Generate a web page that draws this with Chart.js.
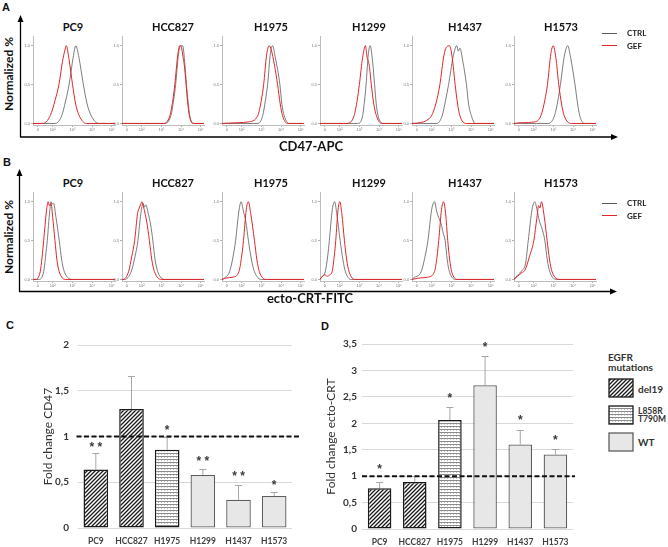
<!DOCTYPE html>
<html>
<head>
<meta charset="utf-8">
<script src="https://cdn.jsdelivr.net/npm/chart.js@4.4.1/dist/chart.umd.min.js"></script>
<style>
  body { margin: 0; background: #fff; }
  #fig { position: relative; width: 668px; height: 547px; overflow: hidden; font-family: Lato, "Open Sans", sans-serif; color: #111; }
  #fig canvas { position: absolute; }
  .txt { position: absolute; white-space: nowrap; transform: translate(-50%, -50%); line-height: 1; }
  .left { transform: translate(0, -50%); }
  svg { position: absolute; left: 0; top: 0; }
</style>
</head>
<body>
<div id="fig">
  <svg width="668" height="547">
    <g stroke="#000" stroke-width="1.3" fill="#000">
      <line x1="20.5" y1="20" x2="20.5" y2="137" />
      <line x1="20" y1="137" x2="612" y2="137" />
      <polygon points="20.5,15 17.5,22 23.5,22" stroke="none" />
      <polygon points="618,137 611,134 611,140" stroke="none" />
      <line x1="19.5" y1="174" x2="19.5" y2="291.5" />
      <line x1="19" y1="291.5" x2="611" y2="291.5" />
      <polygon points="19.5,169 16.5,176 22.5,176" stroke="none" />
      <polygon points="617,291.5 610,288.5 610,294.5" stroke="none" />
    </g>
  </svg>
</div>
<script>
// cell lines and EGFR status
const cellLines = ['PC9', 'HCC827', 'H1975', 'H1299', 'H1437', 'H1573'];
const mutation = ['del19', 'del19', 'L858R', 'WT', 'WT', 'WT'];

// panel C : fold change CD47
const cd47Fold = [0.64, 1.30, 0.855, 0.58, 0.31, 0.35];
const cd47Err = [0.18, 0.36, 0.14, 0.07, 0.16, 0.04];
const cd47Sig = ['* *', '', '*', '* *', '* *', '*'];
const cd47SigAt = [0.91, null, 1.10, 0.76, 0.59, 0.50];
const cd47Ticks = [0, 0.5, 1, 1.5, 2];

// panel D : fold change ecto-CRT
const crtFold = [0.77, 0.89, 2.06, 2.72, 1.60, 1.41];
const crtErr = [0.11, 0.11, 0.24, 0.56, 0.27, 0.11];
const crtSig = ['*', '', '*', '*', '*', '*'];
const crtSigAt = [1.18, null, 2.52, 3.49, 2.11, 1.72];
const crtTicks = [0, 0.5, 1, 1.5, 2, 2.5, 3, 3.5];

// histogram axes
const histTicks = [0.3, 1.2, 2.4, 3.6, 4.8];
const histTickLabels = ['0', '10²', '10³', '10⁴', '10⁵'];
const histYTicks = [0, 0.5, 1];

// panel A : CD47-APC histograms  [x (decade), normalized]
const aPC9Ctrl = [[0,0],[1.35,0],[1.75,0.1],[2.0,0.3],[2.2,0.5],[2.45,0.85],[2.61,1],[2.8,0.85],[3.07,0.5],[3.3,0.25],[3.55,0.1],[4.0,0],[5,0]];
const aPC9Gef = [[0,0],[0.6,0],[1.05,0.1],[1.35,0.3],[1.58,0.5],[1.8,0.8],[1.93,0.93],[2.03,1],[2.2,0.82],[2.41,0.5],[2.6,0.25],[2.82,0.1],[3.25,0],[5,0]];
const aHCC827Ctrl = [[0,0],[2.6,0],[2.98,0.1],[3.15,0.3],[3.27,0.5],[3.45,0.9],[3.56,1],[3.7,1],[3.82,0.8],[3.93,0.5],[4.03,0.28],[4.13,0.1],[4.35,0],[5,0]];
const aHCC827Gef = [[0,0],[2.5,0],[2.92,0.1],[3.1,0.3],[3.22,0.5],[3.4,0.88],[3.52,1],[3.62,0.98],[3.72,0.86],[3.8,0.75],[3.91,0.5],[4.0,0.28],[4.11,0.1],[4.35,0],[5,0]];
const aH1975Ctrl = [[0,0],[2.2,0],[2.48,0.1],[2.65,0.3],[2.78,0.5],[2.95,0.9],[3.08,1],[3.25,0.85],[3.53,0.5],[3.65,0.25],[3.79,0.1],[4.1,0],[5,0]];
const aH1975Gef = [[0,0],[1.0,0.01],[1.6,0.02],[2.18,0.1],[2.4,0.3],[2.54,0.5],[2.72,0.88],[2.88,1],[3.0,0.95],[3.2,0.75],[3.39,0.5],[3.55,0.25],[3.69,0.1],[4.0,0],[5,0]];
const aH1299Ctrl = [[0,0],[2.3,0],[2.6,0.1],[2.72,0.3],[2.81,0.5],[2.95,0.9],[3.06,1],[3.18,0.85],[3.33,0.5],[3.43,0.25],[3.54,0.1],[3.85,0],[5,0]];
const aH1299Gef = [[0,0],[1.65,0],[2.08,0.1],[2.27,0.3],[2.4,0.5],[2.6,0.85],[2.77,1],[2.87,0.85],[2.95,0.8],[3.02,0.72],[3.13,0.5],[3.28,0.25],[3.44,0.1],[3.75,0],[5,0]];
const aH1437Ctrl = [[0,0],[1.5,0],[1.84,0.1],[2.05,0.3],[2.23,0.5],[2.5,0.85],[2.73,1],[2.82,0.93],[2.92,0.97],[3.1,0.8],[3.32,0.5],[3.45,0.25],[3.62,0.1],[3.85,0],[5,0]];
const aH1437Gef = [[0,0],[0.5,0.01],[0.9,0.04],[1.19,0.1],[1.45,0.25],[1.7,0.5],[1.95,0.88],[2.1,0.98],[2.29,1],[2.45,0.85],[2.63,0.5],[2.78,0.25],[2.92,0.1],[3.3,0],[5,0]];
const aH1573Ctrl = [[0,0],[2.1,0],[2.47,0.1],[2.68,0.3],[2.83,0.5],[3.08,0.88],[3.28,1],[3.45,0.85],[3.72,0.5],[3.88,0.25],[4.01,0.1],[4.3,0],[5,0]];
const aH1573Gef = [[0,0],[0.5,0.01],[1.25,0.02],[1.64,0.1],[1.88,0.3],[2.04,0.5],[2.25,0.9],[2.39,1],[2.55,0.85],[2.73,0.5],[2.9,0.25],[3.06,0.1],[3.5,0],[5,0]];

// panel B : ecto-CRT-FITC histograms
const bPC9Ctrl = [[0,0],[0.34,0],[0.65,0.1],[0.77,0.3],[0.87,0.5],[1.02,0.88],[1.1,1],[1.18,0.97],[1.25,0.98],[1.4,0.8],[1.6,0.5],[1.75,0.25],[1.91,0.1],[2.45,0],[5,0]];
const bPC9Gef = [[0,0],[0.13,0],[0.44,0.1],[0.55,0.28],[0.65,0.5],[0.82,0.88],[0.92,1],[1.0,0.95],[1.1,0.98],[1.2,0.8],[1.34,0.5],[1.46,0.25],[1.6,0.1],[2.0,0],[5,0]];
const bHCC827Ctrl = [[0,0],[0.16,0],[0.56,0.1],[0.8,0.3],[0.97,0.5],[1.15,0.85],[1.28,0.98],[1.36,0.93],[1.45,0.96],[1.6,0.85],[1.75,0.7],[1.88,0.5],[2.02,0.25],[2.18,0.1],[2.6,0],[5,0]];
const bHCC827Gef = [[0,0],[0.06,0],[0.4,0.1],[0.6,0.3],[0.77,0.5],[0.95,0.85],[1.05,0.92],[1.15,0.97],[1.21,1],[1.35,0.9],[1.5,0.75],[1.67,0.5],[1.82,0.25],[1.98,0.1],[2.4,0],[5,0]];
const bH1975Ctrl = [[0,0],[0.16,0.02],[0.46,0.1],[0.68,0.3],[0.83,0.5],[1.03,0.88],[1.17,1],[1.3,0.88],[1.45,0.75],[1.61,0.5],[1.8,0.25],[1.98,0.1],[2.4,0],[5,0]];
const bH1975Gef = [[0,0],[0.3,0.02],[0.67,0.03],[1.03,0.1],[1.2,0.3],[1.31,0.5],[1.48,0.9],[1.61,1],[1.75,0.85],[1.98,0.5],[2.13,0.25],[2.28,0.1],[2.7,0],[5,0]];
const bH1299Ctrl = [[0,0],[0.1,0.03],[0.32,0.1],[0.47,0.3],[0.57,0.5],[0.75,0.9],[0.89,1],[1.02,0.85],[1.23,0.5],[1.4,0.25],[1.55,0.1],[1.9,0],[5,0]];
const bH1299Gef = [[0,0],[0.15,0.04],[0.3,0.06],[0.43,0.04],[0.6,0.06],[0.74,0.1],[0.87,0.3],[0.96,0.5],[1.1,0.9],[1.21,1],[1.33,0.85],[1.49,0.5],[1.63,0.25],[1.77,0.1],[2.15,0],[5,0]];
const bH1437Ctrl = [[0,0],[0.1,0.02],[0.56,0.1],[0.8,0.3],[0.97,0.5],[1.2,0.9],[1.37,1],[1.5,0.88],[1.62,0.8],[1.77,0.72],[1.9,0.6],[2.02,0.5],[2.15,0.25],[2.28,0.1],[2.7,0],[5,0]];
const bH1437Gef = [[0,0],[0.5,0.02],[0.97,0.03],[1.37,0.1],[1.53,0.3],[1.63,0.5],[1.8,0.9],[1.92,1],[2.05,0.85],[2.18,0.5],[2.3,0.25],[2.42,0.1],[2.8,0],[5,0]];
const bH1573Ctrl = [[0,0],[0.2,0.05],[0.5,0.12],[0.7,0.2],[0.87,0.5],[1.1,0.9],[1.27,1],[1.4,0.9],[1.55,0.75],[1.67,0.68],[1.88,0.5],[2.03,0.25],[2.18,0.1],[2.6,0],[5,0]];
const bH1573Gef = [[0,0],[0.2,0.04],[0.5,0.09],[0.67,0.12],[0.95,0.3],[1.21,0.5],[1.4,0.8],[1.5,0.95],[1.58,0.92],[1.67,1],[1.85,0.8],[2.02,0.5],[2.17,0.25],[2.32,0.1],[2.8,0],[5,0]];

const rowA = [[aPC9Ctrl, aPC9Gef], [aHCC827Ctrl, aHCC827Gef], [aH1975Ctrl, aH1975Gef],
              [aH1299Ctrl, aH1299Gef], [aH1437Ctrl, aH1437Gef], [aH1573Ctrl, aH1573Gef]];
const rowB = [[bPC9Ctrl, bPC9Gef], [bHCC827Ctrl, bHCC827Gef], [bH1975Ctrl, bH1975Gef],
              [bH1299Ctrl, bH1299Gef], [bH1437Ctrl, bH1437Gef], [bH1573Ctrl, bH1573Gef]];

// layout
const fig = document.getElementById('fig');
const histLeft = [33, 122, 222, 320, 412, 514];
const histTitleX = [73, 173, 271, 369, 465, 561];
const GREY = '#5a5a5a', RED = '#e0262b';

function text(str, x, y, css, cls) {
  const d = document.createElement('div');
  d.className = 'txt' + (cls ? ' ' + cls : '');
  d.textContent = str;
  d.style.left = x + 'px';
  d.style.top = y + 'px';
  d.style.cssText += css;
  fig.appendChild(d);
  return d;
}

function addCanvas(x, y, w, h) {
  const c = document.createElement('canvas');
  c.width = w; c.height = h;
  c.style.left = x + 'px'; c.style.top = y + 'px';
  c.style.width = w + 'px'; c.style.height = h + 'px';
  fig.appendChild(c);
  return c;
}

function histChart(canvas, ctrl, gef) {
  new Chart(canvas, {
    type: 'line',
    data: {
      datasets: [
        { label: 'GEF', data: gef, borderColor: RED, borderWidth: 1 },
        { label: 'CTRL', data: ctrl, borderColor: GREY, borderWidth: 0.8 }
      ]
    },
    options: {
      animation: false, responsive: false, devicePixelRatio: 1,
      layout: { padding: { top: 1, right: 3, left: 0, bottom: 0 } },
      elements: { point: { radius: 0 }, line: { cubicInterpolationMode: 'monotone' } },
      plugins: { legend: { display: false }, tooltip: { enabled: false } },
      scales: {
        x: {
          type: 'linear', min: 0, max: 5,
          afterBuildTicks: ax => { ax.ticks = histTicks.map(v => ({ value: v })); },
          afterFit: ax => { ax.height = 8; },
          grid: { drawOnChartArea: false, tickLength: 2, color: '#b0b0b0' },
          border: { color: '#bdbdbd' },
          ticks: { font: { size: 4 }, color: '#777', padding: 0, maxRotation: 0, autoSkip: false,
                   callback: (v, i) => histTickLabels[i] }
        },
        y: {
          min: -0.02, max: 1.12,
          afterBuildTicks: ax => { ax.ticks = histYTicks.map(v => ({ value: v })); },
          afterFit: ax => { ax.width = 11; },
          grid: { drawOnChartArea: false, tickLength: 2, color: '#b0b0b0' },
          border: { color: '#bdbdbd' },
          ticks: { font: { size: 4 }, color: '#777', padding: 1, callback: v => v.toFixed(1) }
        }
      }
    }
  });
}

function histRow(row, top, titleY, legendY) {
  row.forEach((pair, i) => {
    histChart(addCanvas(histLeft[i] - 11, top, 96, 100), pair[0], pair[1]);
    text(cellLines[i], histTitleX[i], titleY, 'font-weight:bold;font-size:11px;');
  });
  [['CTRL', GREY], ['GEF', RED]].forEach((e, k) => {
    const y = legendY + k * 12.5;
    const ln = document.createElement('div');
    ln.style.cssText = `position:absolute;left:602px;top:${y - 0.5}px;width:15px;height:0;border-top:${k ? 1.2 : 0.8}px solid ${e[1]};`;
    fig.appendChild(ln);
    text(e[0], 627, y, 'font-weight:bold;font-size:8px;color:#222;', 'left');
  });
}

histRow(rowA, 33, 26, 33);
histRow(rowB, 189, 182, 203);

// panel letters and axis titles
text('A', 6, 7, 'font:bold 11px "Liberation Sans",Arial,sans-serif;');
text('B', 7, 162, 'font:bold 11px "Liberation Sans",Arial,sans-serif;');
text('C', 10, 325, 'font:bold 11px "Liberation Sans",Arial,sans-serif;');
text('D', 325, 326, 'font:bold 11px "Liberation Sans",Arial,sans-serif;');
text('Normalized %', 9, 74, 'font-weight:bold;font-size:12px;').style.transform = 'translate(-50%,-50%) rotate(-90deg)';
text('Normalized %', 9, 237, 'font-weight:bold;font-size:12px;').style.transform = 'translate(-50%,-50%) rotate(-90deg)';
text('CD47-APC', 311, 146, 'font-weight:bold;font-size:13px;');
text('ecto-CRT-FITC', 310, 298, 'font-weight:bold;font-size:13px;');

// bar fills
function hatch() {
  const c = document.createElement('canvas'); c.width = 4; c.height = 4;
  const g = c.getContext('2d');
  g.fillStyle = '#fff'; g.fillRect(0, 0, 4, 4);
  g.strokeStyle = '#1a1a1a'; g.lineWidth = 1.3;
  g.beginPath();
  g.moveTo(-1, 5); g.lineTo(5, -1);
  g.moveTo(-1, 1); g.lineTo(1, -1);
  g.moveTo(3, 5); g.lineTo(5, 3);
  g.stroke();
  return g.createPattern(c, 'repeat');
}
function waves() {
  const c = document.createElement('canvas'); c.width = 6; c.height = 3;
  const g = c.getContext('2d');
  g.fillStyle = '#fff'; g.fillRect(0, 0, 6, 3);
  g.fillStyle = '#8c8c8c'; g.fillRect(0, 0, 6, 1);
  g.fillStyle = '#c4c4c4'; g.fillRect(1, 1, 1, 1); g.fillRect(4, 1, 1, 1);
  return g.createPattern(c, 'repeat');
}
const fills = { del19: hatch(), L858R: waves(), WT: '#e8e7e7' };
const edges = { del19: '#1a1a1a', L858R: '#1a1a1a', WT: '#5e5e5e' };

function overlay(values, errors, sig, sigAt, dashL, dashR) {
  return {
    id: 'overlay',
    beforeDatasetsDraw(chart) {
      const ctx = chart.ctx, y = chart.scales.y;
      ctx.save();
      ctx.strokeStyle = '#a6a6a6'; ctx.lineWidth = 1;
      chart.getDatasetMeta(0).data.forEach((bar, i) => {
        const top = Math.round(y.getPixelForValue(values[i] + errors[i])) + 0.5;
        ctx.beginPath();
        ctx.moveTo(bar.x, bar.y); ctx.lineTo(bar.x, top);
        ctx.moveTo(bar.x - 3.5, top); ctx.lineTo(bar.x + 3.5, top);
        ctx.stroke();
      });
      ctx.restore();
    },
    afterDatasetsDraw(chart) {
      const ctx = chart.ctx, y = chart.scales.y, a = chart.chartArea;
      ctx.save();
      ctx.fillStyle = '#3a3a3a';
      ctx.font = 'bold 12px "Liberation Sans", Arial, sans-serif';
      ctx.textAlign = 'center'; ctx.textBaseline = 'middle';
      chart.getDatasetMeta(0).data.forEach((bar, i) => {
        if (sig[i]) ctx.fillText(sig[i], bar.x, y.getPixelForValue(sigAt[i]) + 3);
      });
      const y1 = y.getPixelForValue(1);
      ctx.strokeStyle = '#111'; ctx.lineWidth = 2; ctx.setLineDash([5, 2.5]);
      ctx.beginPath(); ctx.moveTo(a.left - dashL, y1); ctx.lineTo(a.right + dashR, y1); ctx.stroke();
      ctx.restore();
    }
  };
}

function foldChart(canvas, o) {
  new Chart(canvas, {
    type: 'bar',
    data: {
      labels: cellLines,
      datasets: [{
        data: o.values,
        backgroundColor: mutation.map(m => fills[m]),
        borderColor: mutation.map(m => edges[m]),
        borderWidth: mutation.map(m => m === 'WT' ? 1.3 : 1.5),
        borderSkipped: false,
        categoryPercentage: 1, barPercentage: o.barPct
      }]
    },
    options: {
      animation: false, responsive: false, devicePixelRatio: 1,
      layout: { padding: { top: 14, right: o.padR, left: 0, bottom: 0 } },
      plugins: { legend: { display: false }, tooltip: { enabled: false } },
      scales: {
        x: {
          afterFit: ax => { ax.height = o.xH; },
          grid: { display: false, drawTicks: false }, border: { display: false },
          ticks: { font: { family: 'Lato', size: 8.5, weight: 'bold' }, color: '#404040', padding: 8,
                   maxRotation: 0, autoSkip: false }
        },
        y: {
          min: 0, max: o.ticks[o.ticks.length - 1],
          afterBuildTicks: ax => { ax.ticks = o.ticks.map(v => ({ value: v })); },
          afterFit: ax => { ax.width = o.yW; },
          grid: { color: '#d9d9d9', drawTicks: false }, border: { display: false },
          ticks: { font: { family: 'Lato', size: 10, weight: 'bold' }, color: '#333', padding: o.tickPad,
                   callback: v => String(v).replace('.', ',') },
          title: { display: true, text: o.title, font: { family: 'Lato', size: 12 }, color: '#333', padding: { top: 1, bottom: 0 } }
        }
      }
    },
    plugins: [overlay(o.values, o.errors, o.sig, o.sigAt, o.dashL, o.dashR)]
  });
}

foldChart(addCanvas(40, 330, 270, 217), {
  values: cd47Fold, errors: cd47Err, sig: cd47Sig, sigAt: cd47SigAt, ticks: cd47Ticks,
  title: 'Fold change CD47', yW: 38, xH: 19, padR: 18, tickPad: 9, barPct: 0.69, dashL: 1.5, dashR: 7
});
foldChart(addCanvas(323, 330, 262, 217), {
  values: crtFold, errors: crtErr, sig: crtSig, sigAt: crtSigAt, ticks: crtTicks,
  title: 'Fold change ecto-CRT', yW: 39, xH: 18, padR: 12, tickPad: 5, barPct: 0.67, dashL: 0, dashR: 2
});

// legend for panel D
text('EGFR', 608, 357, 'font-weight:bold;font-size:10px;color:#333;', 'left');
text('mutations', 608, 367, 'font-weight:bold;font-size:10px;color:#333;', 'left');
const swatchY = { del19: 378, L858R: 405, WT: 432 };
['del19', 'L858R', 'WT'].forEach(m => {
  const c = addCanvas(608, swatchY[m], 26, 20);
  const g = c.getContext('2d');
  g.fillStyle = fills[m]; g.fillRect(1, 1, 24, 18);
  g.strokeStyle = edges[m]; g.lineWidth = 1.3; g.strokeRect(1, 1, 24, 18);
});
text('del19', 638, 389, 'font-weight:bold;font-size:10px;color:#333;', 'left');
text('L858R', 638, 411, 'font-weight:bold;font-size:8.5px;color:#333;', 'left');
text('T790M', 638, 419, 'font-weight:bold;font-size:8.5px;color:#333;', 'left');
text('WT', 638, 442, 'font-weight:bold;font-size:10px;color:#333;', 'left');
</script>
</body>
</html>
